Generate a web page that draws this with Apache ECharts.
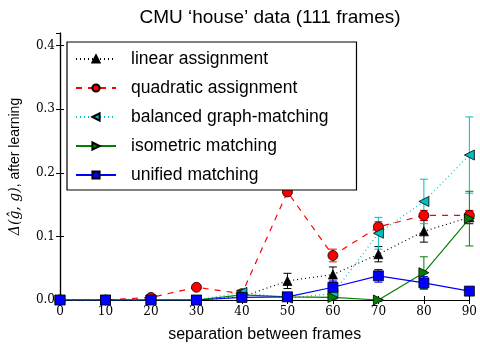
<!DOCTYPE html>
<html>
<head>
<meta charset="utf-8">
<script src="https://cdn.jsdelivr.net/npm/echarts@6/dist/echarts.min.js"></script>
<style>
html,body{margin:0;padding:0;background:#fff;}
#chart{width:480px;height:348px;}
</style>
</head>
<body>
<div id="chart"></div>
<script>
// separation between frames
let frames = [0, 10, 20, 30, 40, 50, 60, 70, 80, 90];

// mean values
let linearVals    = [0, 0, 0, 0, 0.005, 0.030, 0.040, 0.072, 0.108, 0.130];
let quadraticVals = [0, 0, 0.004, 0.020, 0.010, 0.170, 0.070, 0.115, 0.133, 0.133];
let balancedVals  = [0, 0, 0, 0, 0.012, 0.003, 0.010, 0.105, 0.155, 0.228];
let isometricVals = [0, 0, 0, 0, 0.008, 0.005, 0.004, 0.000, 0.043, 0.128];
let unifiedVals   = [0, 0, 0, 0, 0.004, 0.005, 0.020, 0.038, 0.027, 0.014];

// error bar half-widths
let linearErr    = [0, 0, 0, 0, 0.002, 0.012, 0.012, 0.012, 0.017, 0.010];
let quadraticErr = [0, 0, 0.002, 0.002, 0.003, 0.005, 0.010, 0.008, 0.008, 0.008];
let balancedErr  = [0, 0, 0, 0, 0.004, 0.003, 0.005, 0.025, 0.035, 0.060];
let isometricErr = [0, 0, 0, 0, 0.002, 0.002, 0.003, 0.002, 0.025, 0.043];
let unifiedErr   = [0, 0, 0, 0, 0.002, 0.002, 0.010, 0.010, 0.010, 0.004];

let seriesNames = ['linear assignment', 'quadratic assignment', 'balanced graph-matching', 'isometric matching', 'unified matching'];
let yTicks = [0, 0.1, 0.2, 0.3, 0.4];

let chart = echarts.init(document.getElementById('chart'));

function pairs(vals){
	return frames.map((f, i) => [f, vals[i]]);
}

function errData(vals, errs){
	return frames.map((f, i) => [f, vals[i] - errs[i], vals[i] + errs[i]]);
}

//误差线
function errSeries(vals, errs, color){
	return {
		type: 'custom',
		silent: true,
		z: 1,
		data: errData(vals, errs),
		renderItem: function(params, api){
			let lo = api.coord([api.value(0), api.value(1)]);
			let hi = api.coord([api.value(0), api.value(2)]);
			let w = 4;
			let st = {stroke: color, lineWidth: 1};
			return {
				type: 'group',
				children: [
					{type: 'line', shape: {x1: lo[0], y1: lo[1], x2: hi[0], y2: hi[1]}, style: st},
					{type: 'line', shape: {x1: lo[0]-w, y1: lo[1], x2: lo[0]+w, y2: lo[1]}, style: st},
					{type: 'line', shape: {x1: hi[0]-w, y1: hi[1], x2: hi[0]+w, y2: hi[1]}, style: st}
				]
			};
		}
	};
}

function lineSeries(name, vals, color, lineType, symbol, rotate, size, z){
	return {
		name: name,
		type: 'line',
		data: pairs(vals),
		symbol: symbol,
		symbolRotate: rotate,
		symbolSize: size,
		showAllSymbol: true,
		z: z,
		lineStyle: {color: color, width: 1.2, type: lineType},
		itemStyle: {color: color, borderColor: '#000', borderWidth: 0.8}
	};
}

let sansFont = '"Liberation Sans", Arial, sans-serif';
let serifFont = '"DejaVu Serif", serif';

let option = {
	animation: false,
	title: {
		text: 'CMU \u2018house\u2019 data (111 frames)',
		left: 265, top: 3, textAlign: 'center',
		textStyle: {fontFamily: sansFont, fontSize: 19, fontWeight: 'normal', color: '#000'}
	},
	grid: {left: 58, right: 8, top: 33, bottom: 47},
	legend: {
		orient: 'vertical',
		left: 67, top: 42,
		padding: [8, 28, 6, 8],
		itemWidth: 40, itemHeight: 9,
		itemGap: 11,
		borderColor: '#000', borderWidth: 1.2,
		backgroundColor: '#fff',
		textStyle: {fontFamily: sansFont, fontSize: 17.5, color: '#000', padding: [0, 0, 0, 10]},
		data: seriesNames
	},
	xAxis: [{
		type: 'value', min: 0, max: 90, interval: 10,
		name: 'separation between frames', nameLocation: 'middle', nameGap: 27,
		nameTextStyle: {fontFamily: sansFont, fontSize: 16, color: '#000'},
		axisLine: {lineStyle: {color: '#000', width: 1.2}},
		axisTick: {inside: true, length: 4, lineStyle: {color: '#000'}},
		axisLabel: {fontFamily: serifFont, fontSize: 12, color: '#000', margin: 6},
		splitLine: {show: false}
	}, {
		type: 'value', min: 0, max: 90, interval: 10, position: 'top',
		axisLine: {lineStyle: {color: '#000', width: 1.2}},
		axisTick: {inside: true, length: 4, lineStyle: {color: '#000'}},
		axisLabel: {show: false},
		splitLine: {show: false}
	}],
	yAxis: [{
		type: 'value', min: 0, max: 0.42, interval: 0.1,
		name: '{m|\u0394(\u011D, g)}, after learning', nameLocation: 'middle', nameGap: 38,
		nameTextStyle: {fontFamily: sansFont, fontSize: 14, color: '#000',
			rich: {m: {fontFamily: serifFont, fontStyle: 'italic', fontSize: 14, color: '#000'}}},
		axisLine: {show: true, lineStyle: {color: '#000', width: 1.2}},
		axisTick: {inside: true, length: 4, lineStyle: {color: '#000'}},
		axisLabel: {fontFamily: serifFont, fontSize: 12, color: '#000', margin: 5,
			showMaxLabel: false,
			formatter: function(v){ return yTicks.some(t => Math.abs(t - v) < 1e-6) ? v.toFixed(1) : ''; }},
		splitLine: {show: false}
	}, {
		type: 'value', min: 0, max: 0.42, interval: 0.1, position: 'right',
		axisLine: {show: true, lineStyle: {color: '#000', width: 1.2}},
		axisTick: {inside: true, length: 4, lineStyle: {color: '#000'}},
		axisLabel: {show: false},
		splitLine: {show: false}
	}],
	series: [
		errSeries(linearVals, linearErr, '#000'),
		errSeries(quadraticVals, quadraticErr, '#ff0000'),
		errSeries(balancedVals, balancedErr, '#00bfbf'),
		errSeries(isometricVals, isometricErr, '#008000'),
		errSeries(unifiedVals, unifiedErr, '#0000ff'),
		lineSeries(seriesNames[0], linearVals, '#000', [1, 3], 'triangle', 0, 9, 2),
		lineSeries(seriesNames[1], quadraticVals, '#ff0000', [6, 6], 'circle', 0, 10, 3),
		lineSeries(seriesNames[2], balancedVals, '#00bfbf', [1, 3], 'triangle', 90, 10, 4),
		lineSeries(seriesNames[3], isometricVals, '#008000', 'solid', 'triangle', -90, 10, 5),
		lineSeries(seriesNames[4], unifiedVals, '#0000ff', 'solid', 'rect', 0, 10, 6)
	]
};

chart.setOption(option);
</script>
</body>
</html>
